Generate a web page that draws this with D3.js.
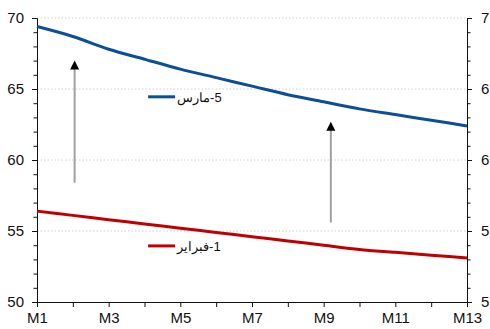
<!DOCTYPE html>
<html>
<head>
<meta charset="utf-8">
<script src="https://cdn.jsdelivr.net/npm/d3@7"></script>
<style>
  html, body { margin: 0; padding: 0; background: #fff; }
  svg { display: block; font-family: "Liberation Sans", Arial, sans-serif; }
</style>
</head>
<body>
<svg id="chart" width="490" height="329"></svg>
<script>
// Months along the horizontal axis
const months = ["M1","M2","M3","M4","M5","M6","M7","M8","M9","M10","M11","M12","M13"];
const monthLabels = ["M1","M3","M5","M7","M9","M11","M13"];

// Series values
const seriesMarch = [69.4, 68.7, 67.8, 67.1, 66.4, 65.8, 65.2, 64.6, 64.1, 63.6, 63.2, 62.8, 62.4];
const seriesFeb   = [56.4, 56.1, 55.8, 55.5, 55.2, 54.9, 54.6, 54.3, 54.0, 53.7, 53.5, 53.3, 53.1];
const seriesNames = ["5-مارس", "1-فبراير"];
const seriesColors = ["#0b4f96", "#c00000"];

// Axis ticks
const leftTicks = [50, 55, 60, 65, 70];
const rightTicks = [5, 5.5, 6, 6.5, 7];

// Upward arrows: month position (fractional index), start value, tip value
const arrowX = [1.05, 8.2];
const arrowFrom = [58.4, 55.6];
const arrowTo = [67.0, 62.7];

const W = 490, H = 329;
const margin = {left: 37, right: 23, top: 18, bottom: 27};
const svg = d3.select("#chart");

const x = d3.scaleLinear().domain([0, months.length - 1]).range([margin.left, W - margin.right]);
const y = d3.scaleLinear().domain([50, 70]).range([H - margin.bottom, margin.top]);
const y2 = d3.scaleLinear().domain([5, 7]).range([H - margin.bottom, margin.top]);

// Dotted gridlines
svg.append("g").selectAll("line").data(leftTicks.filter(d => d > 50)).join("line")
  .attr("x1", x(0)).attr("x2", x(months.length - 1))
  .attr("y1", d => y(d)).attr("y2", d => y(d))
  .attr("stroke", "#d0d0d0").attr("stroke-width", 1).attr("stroke-dasharray", "1.5,2");

// Left axis with minor ticks
const leftMinor = d3.range(50, 70.001, 1);
svg.append("g").attr("transform", `translate(${x(0)},0)`)
  .call(d3.axisLeft(y).tickValues(leftMinor).tickSize(3.5).tickFormat(""))
  .call(g => g.select(".domain").remove());
svg.append("g").attr("transform", `translate(${x(0)},0)`)
  .call(d3.axisLeft(y).tickValues(leftTicks).tickSize(5).tickPadding(8).tickFormat(d3.format("d")))
  .call(g => g.selectAll("text").attr("font-size", 15).attr("fill", "#111").attr("font-family", "Liberation Sans, Arial, sans-serif"));

// Right axis with minor ticks
const rightMinor = d3.range(5, 7.0001, 0.1);
svg.append("g").attr("transform", `translate(${x(months.length - 1)},0)`)
  .call(d3.axisRight(y2).tickValues(rightMinor).tickSize(3.5).tickFormat(""))
  .call(g => g.select(".domain").remove());
svg.append("g").attr("transform", `translate(${x(months.length - 1)},0)`)
  .call(d3.axisRight(y2).tickValues(rightTicks).tickSize(5).tickPadding(9).tickFormat(d3.format("~g")))
  .call(g => g.selectAll("text").attr("font-size", 15).attr("fill", "#111").attr("font-family", "Liberation Sans, Arial, sans-serif"));

// Bottom axis
svg.append("g").attr("transform", `translate(0,${y(50)})`)
  .call(d3.axisBottom(x).tickValues(d3.range(months.length)).tickSize(5).tickPadding(5)
    .tickFormat(i => monthLabels.includes(months[i]) ? months[i] : ""))
  .call(g => g.selectAll("text").attr("font-size", 15).attr("fill", "#111").attr("font-family", "Liberation Sans, Arial, sans-serif"));

svg.selectAll(".domain, .tick line").attr("stroke", "#111");

// Arrows
const arrows = arrowX.map((d, i) => ({x: d, from: arrowFrom[i], to: arrowTo[i]}));
const ag = svg.append("g");
ag.selectAll("line").data(arrows).join("line")
  .attr("x1", d => x(d.x)).attr("x2", d => x(d.x))
  .attr("y1", d => y(d.from)).attr("y2", d => y(d.to) + 8)
  .attr("stroke", "#a0a0a0").attr("stroke-width", 2);
ag.selectAll("path").data(arrows).join("path")
  .attr("d", d => {
    const cx = x(d.x), ty = y(d.to);
    return `M${cx},${ty} L${cx - 4.5},${ty + 9} L${cx + 4.5},${ty + 9} Z`;
  })
  .attr("fill", "#000");

// Series lines
const line = d3.line().x((d, i) => x(i)).y(d => y(d)).curve(d3.curveMonotoneX);
[seriesMarch, seriesFeb].forEach((vals, k) => {
  svg.append("path").datum(vals)
    .attr("d", line).attr("fill", "none")
    .attr("stroke", seriesColors[k]).attr("stroke-width", 3);
});

// Inline legend labels, anchored in data coordinates
const legendPos = [{x: 3.1, v: 64.45}, {x: 3.1, v: 53.95}];
legendPos.forEach((p, k) => {
  const lx = x(p.x), ly = y(p.v);
  svg.append("line").attr("x1", lx).attr("x2", lx + 27).attr("y1", ly).attr("y2", ly)
    .attr("stroke", seriesColors[k]).attr("stroke-width", 3);
  svg.append("text").attr("x", lx + 29).attr("y", ly + 5)
    .attr("direction", "rtl").attr("unicode-bidi", "embed")
    .style("direction", "rtl").style("unicode-bidi", "embed")
    .attr("text-anchor", "end")
    .attr("font-size", 13).attr("fill", "#111")
    .text(seriesNames[k]);
});
</script>
</body>
</html>
